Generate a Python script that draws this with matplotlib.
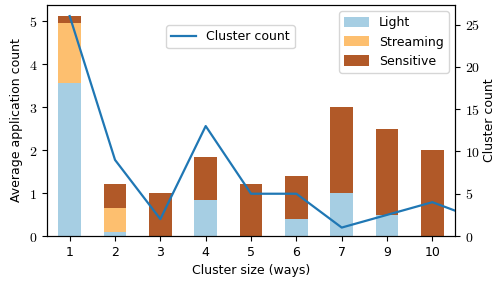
import matplotlib
matplotlib.use("Agg")
import matplotlib.pyplot as plt
import numpy as np

# data
sizes = ["1", "2", "3", "4", "5", "6", "7", "9", "10"]
light = [3.57, 0.10, 0.0, 0.84, 0.0, 0.40, 1.0, 0.50, 0.0]
streaming = [1.38, 0.56, 0.0, 0.0, 0.0, 0.0, 0.0, 0.0, 0.0]
sensitive = [0.17, 0.56, 1.0, 1.01, 1.2, 1.0, 2.0, 2.0, 2.0]
# last point lies past the right edge of the axes
cluster_count = [26, 9, 2, 13, 5, 5, 1, 2.5, 4, 2]

plt.rcParams["mathtext.fontset"] = "cm"
plt.rcParams["font.size"] = 9

fig = plt.figure(figsize=(4.97, 2.83), dpi=100)
ax = fig.add_axes([0.0946, 0.166, 0.821, 0.816])

x = np.arange(len(sizes))
w = 0.5
ax.bar(x, light, w, color="#a6cee3", label="Light")
ax.bar(x, streaming, w, bottom=light, color="#fdbf6f", label="Streaming")
bottom2 = np.array(light) + np.array(streaming)
ax.bar(x, sensitive, w, bottom=bottom2, color="#b15928", label="Sensitive")
ax.set_xlim(-0.5, len(sizes) - 0.5)
ax.set_xticks(x)
ax.set_xticklabels(sizes)
ax.set_yticks(range(6))
ax.set_yticklabels(["$%d$" % v for v in range(6)], fontsize=10)
ax.set_xlabel("Cluster size (ways)")
ax.set_ylabel("Average application count")
ax.legend(loc="upper right", fancybox=True, handleheight=0.9)

ax2 = ax.twinx()
ax2.plot(np.arange(len(cluster_count)), cluster_count, color="#1f77b4",
         lw=1.6, label="Cluster count")
ax2.set_xlim(-0.5, len(sizes) - 0.5)
ax2.set_ylim(0, 27.3)
ax2.set_yticks(range(0, 26, 5))
ax2.set_yticklabels(["$%d$" % v for v in range(0, 26, 5)], fontsize=10)
ax2.set_ylabel("Cluster count", labelpad=2)
ax2.legend(loc="upper center", bbox_to_anchor=(0.45, 0.94))

fig.savefig("out.png", dpi=100)
